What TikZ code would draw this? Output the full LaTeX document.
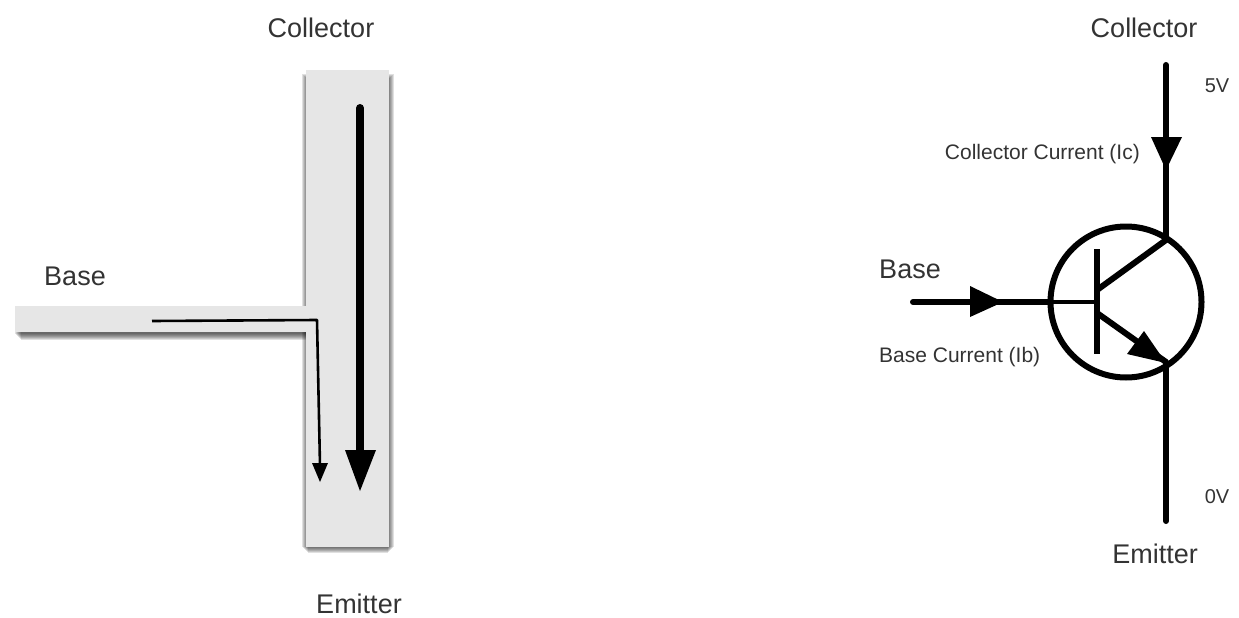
\documentclass[tikz,border=0pt]{standalone}
\usepackage{fontspec}
\setmainfont{Liberation Sans}
\definecolor{barfill}{HTML}{E6E6E6}
\definecolor{labelcol}{HTML}{333333}
\tikzset{
  biglabel/.style={text=labelcol,font=\fontsize{27}{32}\selectfont,inner sep=0pt},
  smalllabel/.style={text=labelcol,font=\fontsize{21}{25}\selectfont,inner sep=0pt},
  tinylabel/.style={text=labelcol,font=\fontsize{20}{24}\selectfont,inner sep=0pt},
  barshape/.style={fill=barfill,draw=none},
  shadowlayer/.style={fill=black,draw=none,fill opacity=0.12},
  wire/.style={draw=black,line width=6pt,line cap=round},
  thinwire/.style={draw=black,line width=3.2pt},
  headfill/.style={fill=black,draw=none}
}
\begin{document}
\begin{tikzpicture}[x=1pt,y=-1pt]
\useasboundingbox (0,0) rectangle (1239,618);
% --- left: shadows
\foreach \g in {0,1,2,3,4,5,6}{
  \fill[shadowlayer] (16+\g-1,309+\g) rectangle (308,334+\g);
  \fill[shadowlayer] (302+\g,74+\g) rectangle (394-\g,547+\g);
}
% --- left: bars
\fill[barshape] (15,306) rectangle (310,332);
\fill[barshape] (306,70) rectangle (389,547);
\coordinate (leakStart) at (152,321);
\coordinate (leakCorner) at (317,320);
\coordinate (leakEnd) at (320,466);
\coordinate (flowStart) at (360,108);
\coordinate (flowEnd) at (360,452);
\draw[line width=2.6pt,line join=round] (leakStart) -- (leakCorner) -- (leakEnd);
\fill[headfill] (312,463) -- (328,463) -- (320,482) -- cycle;
\draw[line width=8pt,line cap=round] (flowStart) -- (flowEnd);
\fill[headfill] (345,450) -- (376,450) -- (360,491) -- cycle;
\node[biglabel] (colL) at (321,28) {Collector};
\node[biglabel] (baseL) at (75,276) {Base};
\node[biglabel] (emiL) at (359,604) {Emitter};
% --- right: transistor
\coordinate (cc) at (1126,302);
\draw[black,line width=6pt] (cc) circle (75.5);
\coordinate (colTop) at (1166,65);
\coordinate (colJoin) at (1166,240);
\coordinate (emiJoin) at (1166,362);
\coordinate (emiEnd) at (1166,521);
\coordinate (baseStart) at (913,302);
\coordinate (baseRing) at (1050,302);
\coordinate (barMid) at (1097,302);
\coordinate (barTop) at (1097,249);
\coordinate (barBot) at (1097,354);
\coordinate (diagC) at (1097,290);
\coordinate (diagE) at (1097,313);
\draw[wire] (colTop) -- (colJoin);
\fill[headfill] (1151,137) -- (1182,137) -- (1166,170) -- cycle;
\draw[wire] (emiJoin) -- (emiEnd);
\draw[wire] (baseStart) -- (baseRing);
\fill[headfill] (970,286) -- (1003,302) -- (970,317) -- cycle;
\draw[thinwire] (baseRing) -- (barMid);
\draw[wire,line cap=butt] (barTop) -- (barBot);
\draw[wire,line cap=butt] (diagC) -- (colJoin);
\draw[wire,line cap=butt] (diagE) -- (emiJoin);
\fill[headfill] (1166,363) -- (1127,354) -- (1144,331) -- cycle;
\node[biglabel] (colR) at (1144,28) {Collector};
\node[biglabel] (emiR) at (1155,554) {Emitter};
\node[biglabel] (baseR) at (910,269) {Base};
\node[tinylabel] (v5) at (1217,86) {5V};
\node[tinylabel] (v0) at (1217,497) {0V};
\node[smalllabel,anchor=east] (ic) at (1140,154) {Collector Current (Ic)};
\node[smalllabel,anchor=west] (ib) at (879,357) {Base Current (Ib)};
\end{tikzpicture}
\end{document}
